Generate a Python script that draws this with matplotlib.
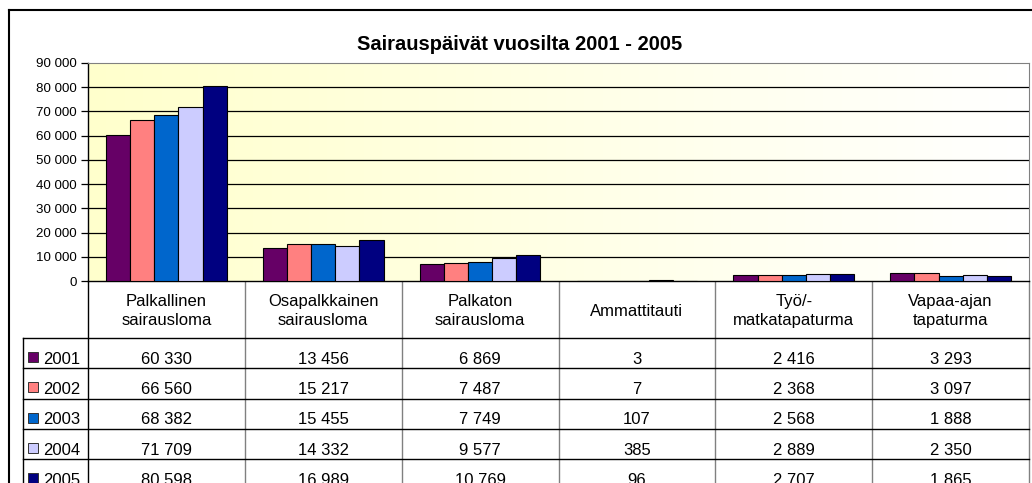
import numpy as np
import matplotlib.pyplot as plt
from matplotlib.colors import LinearSegmentedColormap
from matplotlib.ticker import FuncFormatter
from matplotlib.patches import Rectangle

plt.rcParams['font.family'] = ['Liberation Sans', 'DejaVu Sans']

# data
kategoriat = ['Palkallinen\nsairausloma', 'Osapalkkainen\nsairausloma', 'Palkaton\nsairausloma',
              'Ammattitauti', 'Työ/-\nmatkatapaturma', 'Vapaa-ajan\ntapaturma']
vuodet = ['2001', '2002', '2003', '2004', '2005']
v2001 = [60330, 13456, 6869, 3, 2416, 3293]
v2002 = [66560, 15217, 7487, 7, 2368, 3097]
v2003 = [68382, 15455, 7749, 107, 2568, 1888]
v2004 = [71709, 14332, 9577, 385, 2889, 2350]
v2005 = [80598, 16989, 10769, 96, 2707, 1865]
sarjat = [v2001, v2002, v2003, v2004, v2005]
varit = ['#660066', '#FF8080', '#0066CC', '#CCCCFF', '#000080']
y_ticks = list(range(0, 90001, 10000))


def muotoile(v):
    return f"{int(v):,}".replace(",", " ")


W, H = 1032, 483
fig = plt.figure(figsize=(W / 100, H / 100), dpi=100)

# overlay in pixel coords for the frame and data table
ov = fig.add_axes([0, 0, 1, 1])
ov.set_xlim(0, W)
ov.set_ylim(H, 0)
ov.axis('off')

# plot area (pixels)
x0, x1, y0, y1 = 88, 1029, 63, 281
ax = fig.add_axes([x0 / W, 1 - y1 / H, (x1 - x0) / W, (y1 - y0) / H])

n = len(kategoriat)
x = np.arange(n) + 0.5
w = 1 / 6.5

cmap = LinearSegmentedColormap.from_list('tausta', ['#FFFFCC', '#FFFFFF'])
ax.imshow(np.linspace(0, 1, 256)[None, :], cmap=cmap, extent=(0, n, 0, y_ticks[-1]),
          aspect='auto', zorder=0)
ax.hlines(y_ticks[1:-1], 0, n, colors='black', lw=0.9, zorder=1)

for j, arvot in enumerate(sarjat):
    ax.bar(x + (j - 2) * w, arvot, w, color=varit[j], edgecolor='black', linewidth=0.8, zorder=3)

ax.set_xlim(0, n)
ax.set_ylim(0, y_ticks[-1])
ax.set_xticks([])
ax.set_yticks(y_ticks)
ax.yaxis.set_major_formatter(FuncFormatter(lambda v, p: muotoile(v)))
ax.tick_params(axis='y', direction='out', length=5, width=0.9, pad=3, labelsize=9.6)
for s in ['top', 'right']:
    ax.spines[s].set_color('#808080')
for s in ['left', 'bottom']:
    ax.spines[s].set_color('black')
    ax.spines[s].set_linewidth(1.0)

# chart frame + title
ov.plot([9, 9], [H + 5, 10], color='black', lw=1.5)
ov.plot([9, W + 5], [10, 10], color='black', lw=1.5)
ov.text(520, 44, 'Sairauspäivät vuosilta 2001 - 2005', fontsize=14.5, fontweight='bold',
        ha='center', va='center')

# data table
cx = [x0 + (x1 - x0) * k / n for k in range(n + 1)]
rh = 30.25
ry = [338 + rh * i for i in range(len(vuodet) + 1)]
for k, c in enumerate(cx):
    ov.plot([c, c], [y1, H + 5], color='black' if k == 0 else '#808080', lw=1.0)
ov.plot([23, 23], [ry[0], H + 5], color='black', lw=1.0)
for r in ry[:-1]:
    ov.plot([23, x1], [r, r], color='black', lw=1.0)

for k, nimi in enumerate(kategoriat):
    ov.text((cx[k] + cx[k + 1]) / 2, 311, nimi, fontsize=12, ha='center', va='center',
            linespacing=1.4, multialignment='center')

for i, (vuosi, arvot) in enumerate(zip(vuodet, sarjat)):
    base = ry[i] + 26
    ov.add_patch(Rectangle((28, ry[i] + 14), 10, 10, facecolor=varit[i], edgecolor='#333333', lw=0.7))
    ov.text(43, base, vuosi, fontsize=12, ha='left', va='baseline')
    for k, v in enumerate(arvot):
        ov.text((cx[k] + cx[k + 1]) / 2, base, muotoile(v), fontsize=12, ha='center', va='baseline')

fig.savefig('out.png', dpi=100)
